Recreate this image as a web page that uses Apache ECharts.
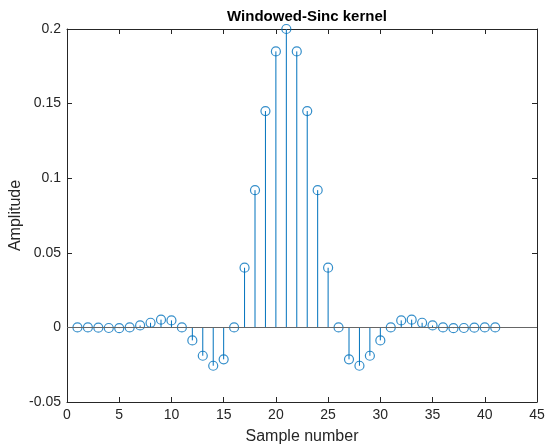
<!DOCTYPE html>
<html>
<head>
<meta charset="utf-8">
<script src="https://cdn.jsdelivr.net/npm/echarts@6/dist/echarts.min.js"></script>
<style>
  html, body { margin: 0; padding: 0; background: #fff; }
  #chart { width: 545px; height: 448px; }
</style>
</head>
<body>
<div id="chart"></div>
<script>
// samples 1..41, amplitudes
var samples = [
  1, 2, 3, 4, 5, 6, 7, 8, 9, 10, 11, 12, 13, 14, 15, 16, 17, 18, 19, 20, 21,
  22, 23, 24, 25, 26, 27, 28, 29, 30, 31, 32, 33, 34, 35, 36, 37, 38, 39, 40, 41
];
var amplitude = [
  0, 0, -0.0002, -0.0004, -0.0005, 0, 0.0013, 0.0031, 0.0052, 0.0047,
  0, -0.0087, -0.019, -0.0257, -0.0214, 0, 0.040, 0.092, 0.145, 0.185,
  0.2,
  0.185, 0.145, 0.092, 0.040, 0, -0.0214, -0.0257, -0.019, -0.0087, 0,
  0.0047, 0.0052, 0.0031, 0.0013, 0, -0.0005, -0.0004, -0.0002, 0, 0
];
var xTicks = [0, 45, 5];
var yTicks = [-0.05, 0.2, 0.05];

var blue = '#0072BD';
var axisColor = '#262626';
var font = 'Liberation Sans, Arial, sans-serif';

var points = samples.map(function (s, k) { return [s, amplitude[k]]; });

var chart = echarts.init(document.getElementById('chart'));

var tick = { show: true, inside: true, length: 5, lineStyle: { color: axisColor, width: 1 } };
var line = { show: true, onZero: false, lineStyle: { color: axisColor, width: 1 } };

chart.setOption({
  animation: false,
  title: {
    text: 'Windowed-Sinc kernel',
    left: 302, top: 4, textAlign: 'center',
    textStyle: { fontFamily: font, fontSize: 15, fontWeight: 'bold', color: '#000' }
  },
  grid: { left: 67, right: 8, top: 29, bottom: 46, outerBoundsMode: 'none', containLabel: false },
  xAxis: [{
    type: 'value', min: xTicks[0], max: xTicks[1], interval: xTicks[2],
    name: 'Sample number', nameLocation: 'middle', nameGap: 27,
    nameTextStyle: { fontFamily: font, fontSize: 16, color: axisColor },
    axisLine: line, axisTick: tick, splitLine: { show: false },
    axisLabel: { fontFamily: font, fontSize: 14, color: axisColor, margin: 6 }
  }, {
    type: 'value', position: 'top', min: xTicks[0], max: xTicks[1], interval: xTicks[2],
    axisLine: line, axisTick: tick, splitLine: { show: false }, axisLabel: { show: false }
  }],
  yAxis: [{
    type: 'value', min: yTicks[0], max: yTicks[1], interval: yTicks[2],
    name: 'Amplitude', nameLocation: 'middle', nameGap: 43, nameMoveOverlap: false,
    nameTextStyle: { fontFamily: font, fontSize: 16, color: axisColor },
    axisLine: line, axisTick: tick, splitLine: { show: false },
    axisLabel: { fontFamily: font, fontSize: 14, color: axisColor, margin: 6 }
  }, {
    type: 'value', position: 'right', min: yTicks[0], max: yTicks[1], interval: yTicks[2],
    axisLine: line, axisTick: tick, splitLine: { show: false }, axisLabel: { show: false }
  }],
  series: [{
    type: 'custom',
    data: points,
    renderItem: function (params, api) {
      var p0 = api.coord([api.value(0), 0]);
      var p1 = api.coord([api.value(0), api.value(1)]);
      return {
        type: 'line',
        shape: { x1: p0[0], y1: p0[1], x2: p1[0], y2: p1[1] },
        style: { stroke: blue, lineWidth: 1 }
      };
    },
    z: 2
  }, {
    type: 'scatter',
    data: points,
    symbol: 'circle',
    symbolSize: 9,
    itemStyle: { color: 'rgba(0,0,0,0)', borderColor: blue, borderWidth: 1.2 },
    markLine: {
      silent: true, symbol: 'none', label: { show: false },
      lineStyle: { color: '#666666', type: 'solid', width: 1 },
      data: [{ yAxis: 0 }]
    },
    z: 3
  }]
});
</script>
</body>
</html>
